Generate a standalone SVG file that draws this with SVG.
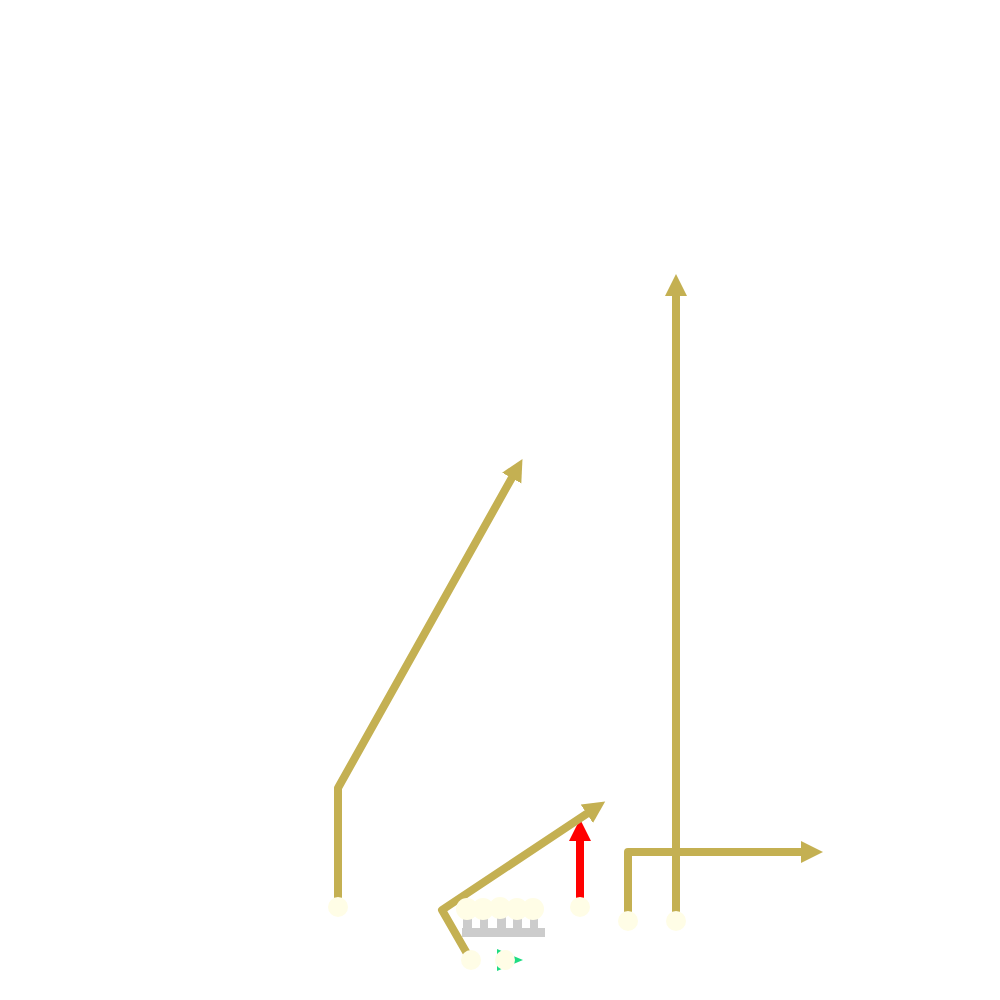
<svg xmlns="http://www.w3.org/2000/svg" width="1000" height="1000" viewBox="0 0 1000 1000">
<style>
.route{fill:none;stroke:#c4b052;stroke-width:8;stroke-linejoin:round}
.red{fill:none;stroke:#ff0000;stroke-width:8}
.player{fill:#fffde6}
.block{fill:#cccccc}
</style>
<defs>
<marker id="ah" markerUnits="userSpaceOnUse" markerWidth="24" markerHeight="24" viewBox="0 0 24 24" refX="1" refY="12" orient="auto">
<path d="M0,1 L22,12 L0,23 Z" fill="#c4b052"/>
</marker>
<marker id="ahr" markerUnits="userSpaceOnUse" markerWidth="24" markerHeight="24" viewBox="0 0 24 24" refX="1" refY="12" orient="auto">
<path d="M0,1 L22,12 L0,23 Z" fill="#ff0000"/>
</marker>
</defs>
<rect width="1000" height="1000" fill="#ffffff"/>
<g id="connectors">
<path class="red" d="M580,902 L580,840" marker-end="url(#ahr)"/>
<path class="route" d="M338,902 L338,788 L512.2,477.2" marker-end="url(#ah)"/>
<path class="route" d="M469,957 L442,910 L587.7,813.2" marker-end="url(#ah)"/>
<path class="route" d="M628,916 L628,852 L802,852" marker-end="url(#ah)"/>
<path class="route" d="M676,916 L676,295" marker-end="url(#ah)"/>
</g>
<g id="blocks">
<rect class="block" x="462" y="928" width="83" height="9"/>
<rect class="block" x="463" y="918" width="9" height="11"/>
<rect class="block" x="480" y="918" width="8" height="11"/>
<rect class="block" x="497" y="914" width="9" height="15"/>
<rect class="block" x="513" y="918" width="9" height="11"/>
<rect class="block" x="530" y="918" width="8" height="11"/>
</g>
<g id="lineman-1"><circle class="player" cx="467" cy="909" r="11"/></g>
<g id="lineman-2"><circle class="player" cx="483" cy="909" r="11"/></g>
<g id="lineman-3"><circle class="player" cx="500" cy="908" r="11"/></g>
<g id="lineman-4"><circle class="player" cx="517" cy="909" r="11"/></g>
<g id="lineman-5"><circle class="player" cx="533" cy="909" r="11"/></g>
<g id="receiver-left"><circle class="player" cx="338" cy="907" r="10"/></g>
<g id="receiver-red"><circle class="player" cx="580" cy="907" r="10"/></g>
<g id="receiver-right1"><circle class="player" cx="628" cy="921" r="10"/></g>
<g id="receiver-right2"><circle class="player" cx="676" cy="921" r="10"/></g>
<g id="qb"><circle class="player" cx="471" cy="960" r="10"/></g>
<g id="back">
<polygon points="497,949 523,960 497,971" fill="#1edc82"/>
<circle class="player" cx="505" cy="960" r="10"/>
</g>
</svg>
